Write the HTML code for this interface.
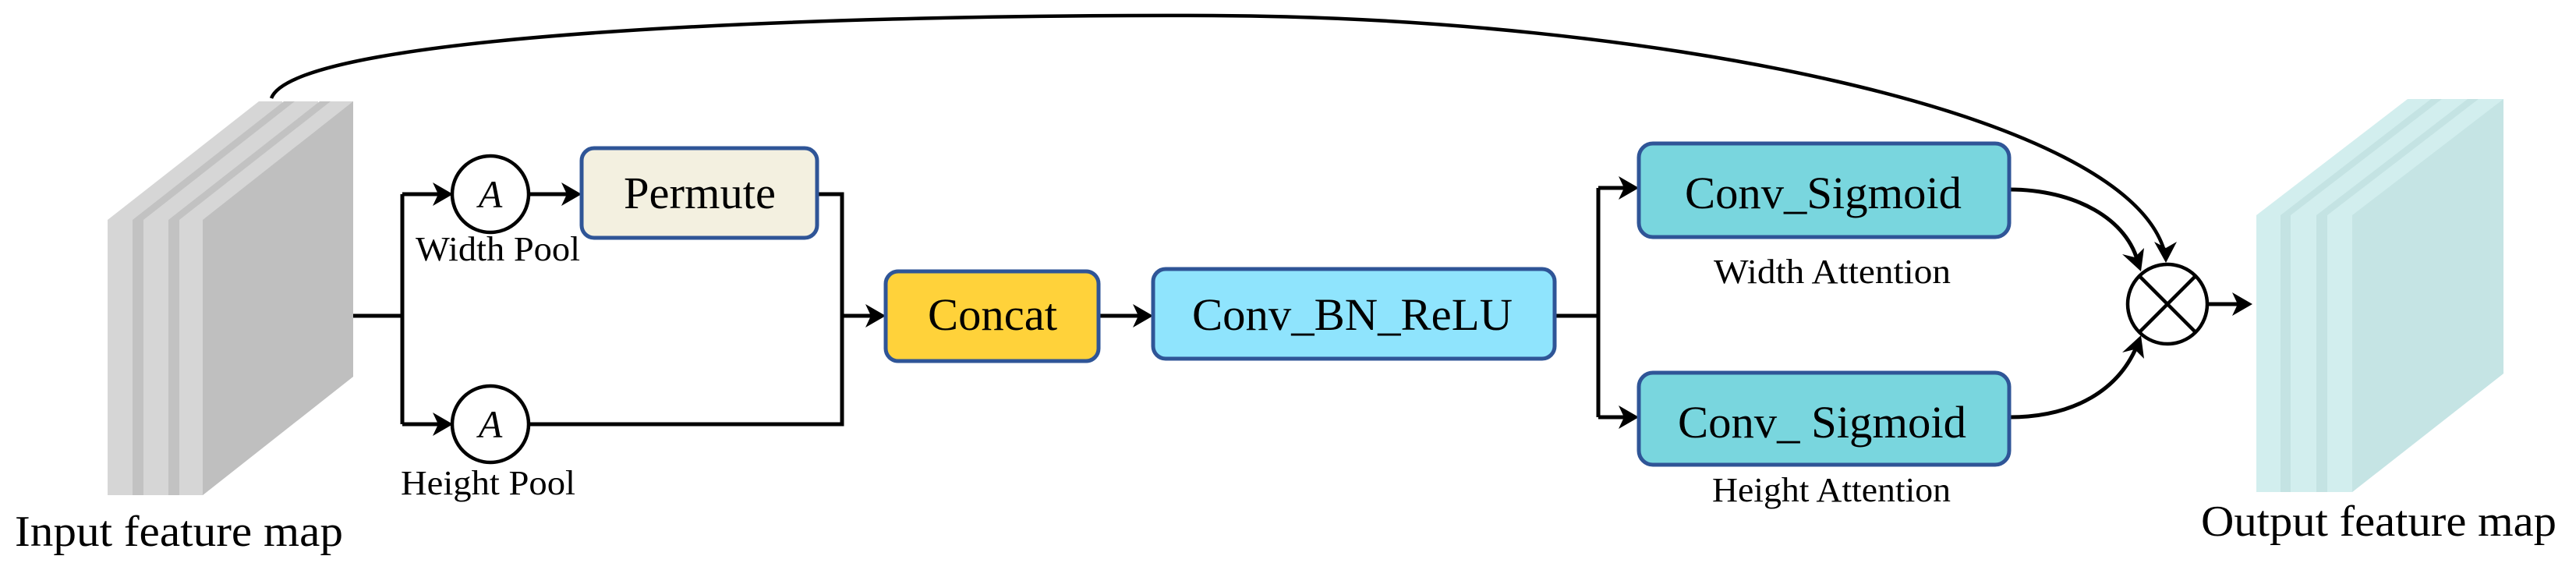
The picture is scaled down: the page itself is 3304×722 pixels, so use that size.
<!DOCTYPE html>
<html><head><meta charset="utf-8"><style>
html,body{margin:0;padding:0;background:#fff;}
svg{display:block;}
text{font-family:"Liberation Serif",serif;fill:#000;}
</style></head><body>
<svg width="3304" height="722" viewBox="0 0 3304 722" xmlns="http://www.w3.org/2000/svg">
<defs>
<marker id="ar" viewBox="0 0 20 20" refX="18" refY="10" markerWidth="7" markerHeight="7" markerUnits="userSpaceOnUse" orient="auto" style="overflow:visible">
</marker>
</defs>
<!-- input stack -->
<g>
<polygon points="138,282 332,130 362,130 362,483 170,635 138,635" fill="#d6d6d6"/>
<polygon points="170,282 364,130 378,130 378,483 184,635 170,635" fill="#c2c2c2"/>
<polygon points="184,282 378,130 408,130 408,483 216,635 184,635" fill="#d6d6d6"/>
<polygon points="216,282 410,130 424,130 424,483 230,635 216,635" fill="#c2c2c2"/>
<polygon points="230,282 424,130 453,130 453,483 260,635 230,635" fill="#d6d6d6"/>
<polygon points="260,282 453,130 453,483 260,635" fill="#bfbfbf"/>
</g>
<!-- output stack -->
<g>
<polygon points="2894,276 3088,127 3118,127 3118,479 2925,631 2894,631" fill="#d2eeee"/>
<polygon points="2925,276 3118,127 3132,127 3132,479 2938,631 2925,631" fill="#c4e3e3"/>
<polygon points="2938,276 3132,127 3165,127 3165,479 2971,631 2938,631" fill="#d2eeee"/>
<polygon points="2971,276 3165,127 3179,127 3179,479 2985,631 2971,631" fill="#c4e3e3"/>
<polygon points="2985,276 3179,127 3211,127 3211,479 3017,631 2985,631" fill="#d2eeee"/>
<polygon points="3017,276 3211,127 3211,479 3017,631" fill="#c5e4e4"/>
</g>
<g fill="none" stroke="#000" stroke-width="5">
<!-- skip connection -->
<path d="M348,126 C380,40 1100,18 1556,20 C2100,22 2740,140 2778,330" stroke-width="4.5"/>
<!-- input branches -->
<path d="M453,405 H516 M516,249 V544 M516,249 H572 M516,544 H572"/>
<path d="M679,249 H738"/>
<path d="M1048,249 H1080 V544 H679"/>
<path d="M1080,405 H1128"/>
<path d="M1409,405 H1471"/>
<path d="M1994,405 H2050 M2050,241 V535 M2050,241 H2094 M2050,535 H2094"/>
<!-- attention curves -->
<path d="M2577,243 C2660,243 2730,280 2743,340"/>
<path d="M2577,535 C2660,535 2720,500 2743,438"/>
<path d="M2832,390 H2880"/>
<!-- circles -->
<circle cx="629" cy="249" r="49" stroke-width="4.5" fill="#fff"/>
<circle cx="629" cy="544" r="49" stroke-width="4.5" fill="#fff"/>
<circle cx="2780" cy="390" r="51" stroke-width="4.5" fill="#fff"/>
<path d="M2744,354 L2816,426 M2816,354 L2744,426" stroke-width="4.5"/>
</g>
<!-- arrowheads -->
<g fill="#000">
<polygon points="581,249 555,234 562,249 555,264"/>
<polygon points="581,544 555,529 562,544 555,559"/>
<polygon points="746,249 720,234 727,249 720,264"/>
<polygon points="1136,405 1110,390 1117,405 1110,420"/>
<polygon points="1479,405 1453,390 1460,405 1453,420"/>
<polygon points="2102,241 2076,226 2083,241 2076,256"/>
<polygon points="2102,535 2076,520 2083,535 2076,550"/>
<polygon points="2889,390 2863,375 2870,390 2863,405"/>
<polygon points="2778,337 2763,310 2778,318 2792,310"/>
<polygon points="2746,348 2722,326 2738,330 2750,318"/>
<polygon points="2746,430 2722,452 2738,448 2750,460"/>
</g>
<!-- boxes -->
<g stroke="#2f5597" stroke-width="5">
<rect x="746" y="190" width="302" height="115" rx="16" fill="#f3f0e0"/>
<rect x="1136" y="348" width="273" height="115" rx="16" fill="#ffd23a"/>
<rect x="1479" y="345" width="515" height="115" rx="16" fill="#8fe4fd"/>
<rect x="2102" y="184" width="475" height="120" rx="18" fill="#79d6de"/>
<rect x="2102" y="478" width="475" height="118" rx="18" fill="#79d6de"/>
</g>
<!-- text -->
<text x="800" y="267" font-size="58" textLength="195" lengthAdjust="spacingAndGlyphs">Permute</text>
<text x="1190" y="423" font-size="58" textLength="166" lengthAdjust="spacingAndGlyphs">Concat</text>
<text x="1529" y="423" font-size="58" textLength="411" lengthAdjust="spacingAndGlyphs">Conv_BN_ReLU</text>
<text x="2161" y="267" font-size="58" textLength="355" lengthAdjust="spacingAndGlyphs">Conv_Sigmoid</text>
<text x="2152" y="561" font-size="58" textLength="370" lengthAdjust="spacingAndGlyphs">Conv_ Sigmoid</text>
<text x="2198" y="363" font-size="44" textLength="304" lengthAdjust="spacingAndGlyphs">Width Attention</text>
<text x="2196" y="643" font-size="44" textLength="306" lengthAdjust="spacingAndGlyphs">Height Attention</text>
<text x="533" y="334" font-size="44" textLength="211" lengthAdjust="spacingAndGlyphs">Width Pool</text>
<text x="514" y="634" font-size="44" textLength="224" lengthAdjust="spacingAndGlyphs">Height Pool</text>
<text x="629" y="266" font-size="50" font-style="italic" text-anchor="middle">A</text>
<text x="629" y="561" font-size="50" font-style="italic" text-anchor="middle">A</text>
<text x="19" y="700" font-size="56" textLength="421" lengthAdjust="spacingAndGlyphs">Input feature map</text>
<text x="2823" y="687" font-size="56" textLength="456" lengthAdjust="spacingAndGlyphs">Output feature map</text>
</svg>
</body></html>
